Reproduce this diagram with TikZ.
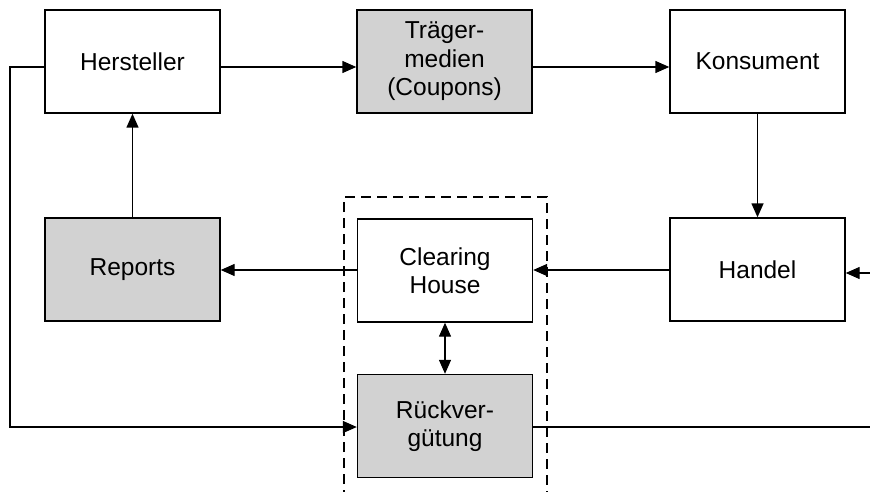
\documentclass[tikz,border=0pt]{standalone}
\usepackage{fontspec}
\setmainfont{Liberation Sans}
\usetikzlibrary{arrows.meta,calc}
\definecolor{boxgray}{RGB}{210,210,210}
\tikzset{
  blk/.style={draw=black, line width=1.4pt, minimum width=175pt, minimum height=103pt,
    align=center, font=\fontsize{24.5}{28.5}\selectfont, inner sep=0pt},
  grayblk/.style={blk, fill=boxgray},
  conn/.style={line width=1.4pt, -{Triangle[length=14pt,width=12pt]}},
  plain/.style={line width=1.4pt},
  dashbox/.style={line width=1.4pt, dash pattern=on 10pt off 6pt}
}
\begin{document}
\begin{tikzpicture}[x=1pt,y=-1pt]
\useasboundingbox (0,0) rectangle (870,492);
\node[blk] (hers) at (132.5,61.5) {Hersteller};
\node[grayblk] (traeg) at (444.5,61.5) {Träger-\\medien\\(Coupons)};
\node[blk] (kons) at (757.5,61.5) {Konsument};
\node[grayblk] (rep) at (132.5,269.5) {Reports};
\node[blk] (clear) at (445,270.5) {Clearing\\House};
\node[blk] (handel) at (757.5,269.5) {Handel};
\node[grayblk] (rueck) at (445,426) {Rückver-\\gütung};
% dashed frame (open at bottom)
\draw[dashbox] (344,500) -- (344,197) -- (547,197) -- (547,500);
% connectors
\draw[conn] (hers.east |- 0,67) -- (traeg.west |- 0,67);
\draw[conn] (traeg.east |- 0,67) -- (kons.west |- 0,67);
\draw[conn] (kons) -- (handel);
\draw[conn] (handel.west |- 0,270) -- (clear.east |- 0,270);
\draw[conn] (clear.west |- 0,270) -- (rep.east |- 0,270);
\draw[conn] (rep) -- (hers);
\draw[line width=1.4pt, {Triangle[length=14pt,width=12pt]}-{Triangle[length=14pt,width=12pt]}] (clear) -- (rueck);
\coordinate (lt) at (10,67);
\coordinate (lb) at (10,427);
\coordinate (rb) at (870,427);
\coordinate (rh) at (870,273);
\draw[conn] (hers.west |- lt) -- (lt) -- (lb) -- (rueck.west |- lb);
\draw[plain] (rueck.east |- rb) -- (rb);
\draw[conn] (rh) -- (handel.east |- rh);
\end{tikzpicture}
\end{document}
